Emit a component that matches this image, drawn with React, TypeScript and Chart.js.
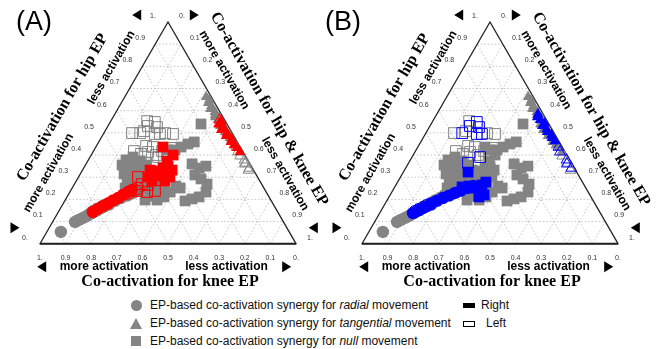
import React, { useEffect, useRef } from "react";
import { Chart, registerables } from "chart.js";

Chart.register(...registerables);

// Each point is [knee EP co-activation, hip EP co-activation]; hip & knee = 1 - knee - hip
type KH = [number, number];

// ---- Radial movement (circles) ----
const radialOtherRight: KH[] = [[0.892, 0.053], [0.814, 0.098], [0.795, 0.107], [0.774, 0.116], [0.754, 0.125], [0.733, 0.136], [0.711, 0.147]];
const radialOtherLeft: KH[] = [];
const radialARight: KH[] = [[0.722, 0.143], [0.695, 0.157], [0.669, 0.17], [0.644, 0.181], [0.617, 0.195], [0.592, 0.206], [0.566, 0.22], [0.54, 0.233], [0.52, 0.242]];
const radialALeft: KH[] = [[0.538, 0.229], [0.512, 0.242], [0.493, 0.249]];
const radialBRight: KH[] = [[0.732, 0.138], [0.701, 0.152], [0.671, 0.166], [0.641, 0.179], [0.611, 0.193], [0.581, 0.206], [0.551, 0.217], [0.522, 0.229], [0.493, 0.24], [0.464, 0.251], [0.436, 0.26]];
const radialBLeft: KH[] = [[0.72, 0.145], [0.7, 0.154], [0.68, 0.163], [0.66, 0.172], [0.641, 0.179]];

// ---- Tangential movement (triangles) ----
const tangOtherRight: KH[] = [[0.02, 0.662], [0.015, 0.648], [0.025, 0.635], [0.02, 0.621], [0.03, 0.608], [0.02, 0.594], [0.025, 0.581], [0.015, 0.567]];
const tangOtherLeft: KH[] = [[0.02, 0.396], [0.015, 0.364], [0.02, 0.332]];
const tangARight: KH[] = [[0.015, 0.553], [0.03, 0.54], [0.02, 0.526], [0.035, 0.513], [0.02, 0.499], [0.03, 0.486], [0.015, 0.472], [0.025, 0.459], [0.02, 0.445], [0.015, 0.432], [0.012, 0.414]];
const tangALeft: KH[] = [[0.02, 0.558], [0.03, 0.54], [0.025, 0.522]];
const tangBRight: KH[] = [[0.02, 0.585], [0.03, 0.571], [0.025, 0.558], [0.015, 0.544], [0.03, 0.531], [0.02, 0.517], [0.025, 0.504], [0.015, 0.49], [0.02, 0.477], [0.015, 0.463]];
const tangBLeft: KH[] = [[0.015, 0.436], [0.02, 0.414], [0.012, 0.378], [0.02, 0.36], [0.012, 0.341]];

// ---- Null movement (squares) ----
const nullOtherRight: KH[] = [
  [0.475, 0.378], [0.441, 0.391], [0.422, 0.373], [0.483, 0.346], [0.45, 0.35], [0.514, 0.315], [0.483, 0.315], [0.439, 0.332],
  [0.518, 0.283], [0.487, 0.283], [0.519, 0.251], [0.502, 0.355], [0.464, 0.368], [0.464, 0.305], [0.453, 0.274], [0.542, 0.251], [0.408, 0.355],
  [0.462, 0.215], [0.444, 0.197], [0.41, 0.211], [0.375, 0.233], [0.339, 0.26], [0.491, 0.197],
  [0.292, 0.423], [0.261, 0.423], [0.231, 0.436], [0.197, 0.45], [0.168, 0.459],
  [0.101, 0.54],
  [0.226, 0.36], [0.208, 0.341], [0.24, 0.31], [0.225, 0.292], [0.213, 0.269], [0.177, 0.35],
  [0.327, 0.251], [0.337, 0.193], [0.305, 0.202], [0.273, 0.211], [0.235, 0.233],
];
const nullOtherLeft: KH[] = [
  [0.391, 0.499], [0.34, 0.508], [0.305, 0.553], [0.262, 0.499], [0.233, 0.495],
  [0.424, 0.418], [0.403, 0.405], [0.371, 0.414], [0.347, 0.4], [0.32, 0.391], [0.314, 0.418],
  [0.264, 0.432], [0.293, 0.414], [0.341, 0.436], [0.365, 0.441],
];
const nullARight: KH[] = [
  [0.302, 0.436], [0.28, 0.4], [0.428, 0.301], [0.402, 0.314], [0.375, 0.328], [0.349, 0.341], [0.325, 0.35], [0.318, 0.332],
  [0.342, 0.301], [0.371, 0.283], [0.378, 0.305], [0.348, 0.319], [0.318, 0.372], [0.404, 0.332], [0.421, 0.283],
];
const nullALeft: KH[] = [[0.467, 0.301], [0.502, 0.238], [0.465, 0.233], [0.432, 0.238], [0.446, 0.265], [0.468, 0.269]];
const nullBRight: KH[] = [[0.424, 0.323], [0.481, 0.256], [0.452, 0.26], [0.433, 0.251], [0.399, 0.265], [0.377, 0.278], [0.438, 0.211], [0.413, 0.22]];
const nullBLeft: KH[] = [[0.359, 0.499], [0.313, 0.531], [0.277, 0.549], [0.28, 0.526], [0.304, 0.495], [0.284, 0.495], [0.404, 0.364], [0.343, 0.391]];

// ---- Axis ticks ----
const TICK_VALUES = [0, 0.1, 0.2, 0.3, 0.4, 0.5, 0.6, 0.7, 0.8, 0.9, 1];
const GRID_VALUES = [0.1, 0.2, 0.3, 0.4, 0.5, 0.6, 0.7, 0.8, 0.9];

const GREY = "#848484";
const SQ = Math.sqrt(3) / 2;
const SIDE = 256;
const CH = 295;

type Style = "circle" | "triangle" | "rect";
type Group = { style: Style; radius: number; otherR: KH[]; otherL: KH[]; aR: KH[]; aL: KH[]; bR: KH[]; bL: KH[] };

const MOVEMENTS: Group[] = [
  { style: "circle", radius: 6.2, otherR: radialOtherRight, otherL: radialOtherLeft, aR: radialARight, aL: radialALeft, bR: radialBRight, bL: radialBLeft },
  { style: "triangle", radius: 6.2, otherR: tangOtherRight, otherL: tangOtherLeft, aR: tangARight, aL: tangALeft, bR: tangBRight, bL: tangBLeft },
  { style: "rect", radius: 7.6, otherR: nullOtherRight, otherL: nullOtherLeft, aR: nullARight, aL: nullALeft, bR: nullBRight, bL: nullBLeft },
];

function toXY(p: KH) {
  const [k, h] = p;
  const r = 1 - k - h;
  return { x: r + h / 2, y: h * SQ };
}

function buildDatasets(highlight: "A" | "B", color: string) {
  const layers: any[] = [];
  const add = (pts: KH[], g: Group, col: string, filled: boolean) => {
    if (!pts.length) return;
    layers.push({
      data: pts.map(toXY),
      pointStyle: g.style,
      pointRadius: g.radius,
      pointHoverRadius: g.radius,
      backgroundColor: filled ? col : "rgba(0,0,0,0)",
      borderColor: col,
      borderWidth: filled ? 0 : 1,
      clip: false,
    });
  };
  for (const g of MOVEMENTS) {
    add(g.otherR, g, GREY, true);
    add(highlight === "A" ? g.bR : g.aR, g, GREY, true);
  }
  for (const g of MOVEMENTS) {
    add(g.otherL, g, GREY, false);
    add(highlight === "A" ? g.bL : g.aL, g, GREY, false);
  }
  for (const g of MOVEMENTS) add(highlight === "A" ? g.aR : g.bR, g, color, true);
  for (const g of MOVEMENTS) add(highlight === "A" ? g.aL : g.bL, g, color, false);
  const n = layers.length;
  return layers.map((d, i) => ({ ...d, order: n - i }));
}

function makeDecor(label: string, labelX: number) {
  return {
    id: "ternaryDecor",
    beforeDatasetsDraw(chart: any) {
      const ctx = chart.ctx;
      const xs = chart.scales.x, ys = chart.scales.y;
      const px = (k: number, h: number) => [xs.getPixelForValue(1 - k - h + h / 2), ys.getPixelForValue(h * SQ)];
      const line = (a: number[], b: number[]) => {
        ctx.beginPath();
        ctx.moveTo(a[0], a[1]);
        ctx.lineTo(b[0], b[1]);
        ctx.stroke();
      };
      ctx.save();
      ctx.strokeStyle = "#b5b5b5";
      ctx.lineWidth = 0.8;
      ctx.setLineDash([1.5, 2]);
      for (const v of GRID_VALUES) {
        line(px(1 - v, v), px(0, v));
        line(px(v, 0), px(v, 1 - v));
        line(px(1 - v, 0), px(0, 1 - v));
      }
      ctx.setLineDash([]);
      ctx.strokeStyle = "#222";
      ctx.lineWidth = 1.3;
      const a = px(1, 0), b = px(0, 1), c = px(0, 0);
      ctx.beginPath();
      ctx.moveTo(a[0], a[1]);
      ctx.lineTo(b[0], b[1]);
      ctx.lineTo(c[0], c[1]);
      ctx.closePath();
      ctx.stroke();
      ctx.lineWidth = 2;
      line(a, c);
      ctx.restore();
    },
    afterDraw(chart: any) {
      const ctx = chart.ctx;
      const area = chart.chartArea;
      const xs = chart.scales.x, ys = chart.scales.y;
      const px = (k: number, h: number) => [xs.getPixelForValue(1 - k - h + h / 2), ys.getPixelForValue(h * SQ)];
      const ox = area.left - 40, oy = area.top - 22;
      ctx.save();
      // tick labels
      ctx.fillStyle = "#333";
      ctx.font = '7px "Liberation Sans"';
      ctx.textAlign = "center";
      ctx.textBaseline = "middle";
      const fmt = (v: number) => (v === 0 ? "0." : v === 1 ? "1." : v.toFixed(1));
      for (const v of TICK_VALUES) {
        let p = px(1 - v, v);
        ctx.fillText(fmt(v), p[0] - 15, p[1] - 6);
        p = px(0, 1 - v);
        ctx.fillText(fmt(v), p[0] + 14, p[1] - 6);
        p = px(v, 0);
        ctx.fillText(fmt(v), p[0], p[1] + 14);
      }
      ctx.fillStyle = "#000";
      const rot = (t: string, x: number, y: number, deg: number) => {
        ctx.save();
        ctx.translate(x + ox, y + oy);
        ctx.rotate((deg * Math.PI) / 180);
        ctx.fillText(t, 0, 0);
        ctx.restore();
      };
      ctx.font = 'bold 16px "Liberation Serif"';
      rot("Co-activation for hip EP", 62.5, 107.5, -60);
      rot("Co-activation for hip & knee EP", 269, 109, 60);
      rot("Co-activation for knee EP", 170, 282, 0);
      ctx.font = 'bold 12px "Liberation Sans"';
      rot("more activation", 48.5, 173, -60);
      rot("less activation", 111.5, 67.5, -60);
      rot("more activation", 224, 70, 60);
      rot("less activation", 285, 174, 60);
      rot("more activation", 104, 267, 0);
      rot("less activation", 226.5, 267, 0);
      // arrows
      const arrow = (x: number, y: number, dir: number) => {
        const cx = x + ox, cy = y + oy;
        ctx.beginPath();
        ctx.moveTo(cx - 4.5 * dir, cy - 5.5);
        ctx.lineTo(cx + 4.5 * dir, cy);
        ctx.lineTo(cx - 4.5 * dir, cy + 5.5);
        ctx.closePath();
        ctx.fill();
      };
      arrow(136.7, 15, -1);
      arrow(194.3, 15, 1);
      arrow(15, 227.7, 1);
      arrow(313.3, 227.7, -1);
      arrow(41.7, 266.7, -1);
      arrow(286.7, 266.7, 1);
      // panel label
      ctx.font = '27px "Liberation Sans"';
      ctx.textAlign = "left";
      ctx.textBaseline = "alphabetic";
      ctx.fillText(label, labelX + ox, 30 + oy);
      ctx.restore();
    },
  };
}

function Panel(props: { left: number; width: number; padLeft: number; highlight: "A" | "B"; color: string; label: string; labelX: number }) {
  const ref = useRef<HTMLCanvasElement>(null);
  useEffect(() => {
    const { width, padLeft, highlight, color, label, labelX } = props;
    const chart = new Chart(ref.current as HTMLCanvasElement, {
      type: "scatter",
      data: { datasets: buildDatasets(highlight, color) },
      options: {
        responsive: false,
        animation: false,
        events: [],
        layout: { padding: { left: padLeft, right: width - padLeft - SIDE, top: 22, bottom: CH - 22 - SIDE * SQ } },
        scales: {
          x: { type: "linear", min: 0, max: 1, display: false },
          y: { type: "linear", min: 0, max: SQ, display: false },
        },
        plugins: { legend: { display: false }, tooltip: { enabled: false } },
      } as any,
      plugins: [makeDecor(label, labelX)],
    });
    return () => chart.destroy();
  }, []);
  return <canvas ref={ref} width={props.width} height={CH} style={{ position: "absolute", left: props.left, top: 0, width: props.width, height: CH }} />;
}

const LEGEND_ROWS = [
  { shape: "circle", word: "radial" },
  { shape: "triangle", word: "tangential" },
  { shape: "square", word: "null" },
];

function Marker({ shape }: { shape: string }) {
  if (shape === "circle") return <div style={{ width: 11, height: 11, borderRadius: "50%", background: GREY }} />;
  if (shape === "triangle")
    return <div style={{ width: 0, height: 0, borderLeft: "6px solid transparent", borderRight: "6px solid transparent", borderBottom: `11px solid ${GREY}` }} />;
  return <div style={{ width: 10, height: 10, background: GREY }} />;
}

export default function App() {
  const font = '12px "Liberation Sans", Arial, sans-serif';
  return (
    <div style={{ position: "absolute", left: 0, top: 0, width: 670, height: 349, background: "#fff", overflow: "hidden", fontFamily: '"Liberation Sans", Arial, sans-serif' }}>
      <Panel left={0} width={335} padLeft={40} highlight="A" color="#ff0000" label="(A)" labelX={16} />
      <Panel left={320} width={350} padLeft={42} highlight="B" color="#0000ff" label="(B)" labelX={3} />
      {LEGEND_ROWS.map((r, i) => (
        <React.Fragment key={r.word}>
          <div style={{ position: "absolute", left: 130, top: 305 + i * 18 - 5.5, width: 12, height: 11, display: "flex", justifyContent: "center", alignItems: "center" }}>
            <Marker shape={r.shape} />
          </div>
          <div style={{ position: "absolute", left: 150, top: 305 + i * 18 - 7, font, lineHeight: "14px", color: "#111", whiteSpace: "nowrap" }}>
            EP-based co-activation synergy for <i>{r.word}</i> movement
          </div>
        </React.Fragment>
      ))}
      <div style={{ position: "absolute", left: 463, top: 302.5, width: 12, height: 5, background: "#000" }} />
      <div style={{ position: "absolute", left: 481, top: 298, font, lineHeight: "14px", color: "#111" }}>Right</div>
      <div style={{ position: "absolute", left: 463, top: 321, width: 12, height: 6, border: "1px solid #000", boxSizing: "border-box", background: "#fff" }} />
      <div style={{ position: "absolute", left: 486, top: 316, font, lineHeight: "14px", color: "#111" }}>Left</div>
    </div>
  );
}
